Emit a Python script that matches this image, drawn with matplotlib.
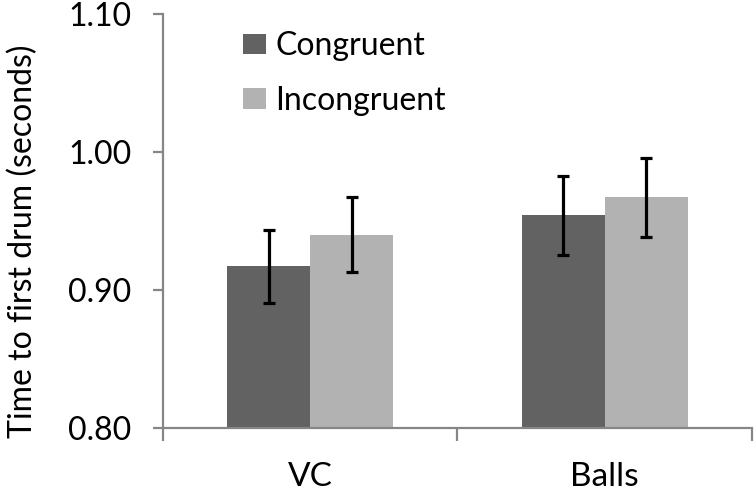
import matplotlib.pyplot as plt
import numpy as np

plt.rcParams['font.family'] = ['Lato', 'DejaVu Sans']

# data
categories = ['VC', 'Balls']
congruent = [0.917, 0.954]
incongruent = [0.940, 0.967]
congruent_err = [0.0265, 0.0285]
incongruent_err = [0.027, 0.0285]
yticks = [0.80, 0.90, 1.00, 1.10]

fig = plt.figure(figsize=(7.56, 4.93), dpi=100)
ax = fig.add_axes([0.2156, 0.1325, 0.779, 0.839])

x = np.arange(len(categories))
w = 0.282
axis_grey = '#868686'

ax.bar(x - w / 2, congruent, w, color='#626262', label='Congruent', zorder=2)
ax.bar(x + w / 2, incongruent, w, color='#b2b2b2', label='Incongruent', zorder=2)
ax.errorbar(x - w / 2, congruent, yerr=congruent_err, fmt='none', ecolor='black',
            elinewidth=2.3, capsize=4, capthick=2.3, zorder=3)
ax.errorbar(x + w / 2, incongruent, yerr=incongruent_err, fmt='none', ecolor='black',
            elinewidth=2.3, capsize=4, capthick=2.3, zorder=3)

ax.set_xlim(-0.5, 1.5)
ax.set_ylim(0.80, 1.10)
ax.set_yticks(yticks)
ax.set_yticklabels(['%.2f' % v for v in yticks])
ax.set_xticks(x)
ax.set_xticklabels(categories)
ax.set_xticks([-0.5, 0.5, 1.5], minor=True)

for s in ['top', 'right']:
    ax.spines[s].set_visible(False)
for s in ['left', 'bottom']:
    ax.spines[s].set_color(axis_grey)
    ax.spines[s].set_linewidth(1.6)

ax.tick_params(axis='x', which='major', length=0, pad=25, labelsize=24, colors='black')
ax.tick_params(axis='x', which='minor', length=9, width=1.6, color=axis_grey)
ax.tick_params(axis='y', length=7.5, width=1.6, color=axis_grey, labelsize=23, pad=15)

ax.set_ylabel('Time to first drum (seconds)', fontsize=23)
ax.yaxis.set_label_coords(-0.212, 0.45)

ax.legend(loc='upper left', bbox_to_anchor=(0.115, 0.99), frameon=False, fontsize=23,
          handlelength=0.7, handleheight=0.6, handletextpad=0.3, labelspacing=0.78,
          borderaxespad=0)

fig.savefig('out.png', dpi=100)
